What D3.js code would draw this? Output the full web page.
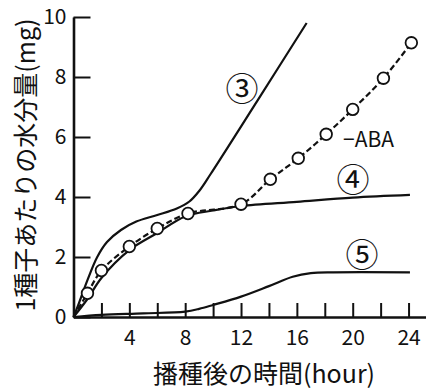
<!DOCTYPE html>
<html>
<head>
<meta charset="utf-8">
<script src="https://d3js.org/d3.v7.min.js"></script>
<style>
  body { margin: 0; background: #fff; }
  text { font-family: "Noto Sans CJK JP", "Noto Sans", sans-serif; fill: #111; }
</style>
</head>
<body>
<div id="graph-area"></div>
<script>
    // hours after sowing vs water content per seed (mg)
    const abaHours  = [0, 1, 2, 4, 6, 8.2, 12, 14.1, 16.1, 18.1, 20, 22.2, 24.2];
    const abaValues = [0, 0.79, 1.55, 2.35, 2.95, 3.45, 3.76, 4.59, 5.29, 6.09, 6.92, 7.96, 9.14];

    const c3Hours  = [0, 0.3, 1, 1.7, 2.4, 3.4, 4.5, 6, 7.4, 8.3, 9, 9.8, 13.2, 16.7];
    const c3Values = [0, 0.35, 1.23, 2.0, 2.5, 2.9, 3.18, 3.4, 3.62, 3.85, 4.2, 4.75, 7.23, 9.8];

    const c4Hours  = [0, 1, 2, 4, 6, 8, 10, 12, 16, 20, 24.1];
    const c4Values = [0, 0.6, 1.3, 2.23, 2.8, 3.35, 3.55, 3.7, 3.84, 3.98, 4.07];

    const c5Hours  = [0, 2, 5, 8, 9, 10, 12, 14, 15.7, 17, 18.6, 24.1];
    const c5Values = [0, 0.07, 0.12, 0.18, 0.27, 0.4, 0.68, 1.03, 1.34, 1.46, 1.49, 1.49];

    const xTicks = [2, 4, 6, 8, 10, 12, 14, 16, 18, 20, 22, 24];
    const yTicks = [0, 2, 4, 6, 8, 10];

    const w = 426;
    const h = 392;

    const xScale = d3.scaleLinear()
                     .domain([0, 25.3])
                     .range([73.5, 426.7]);

    const yScale = d3.scaleLinear()
                     .domain([0, 10])
                     .range([317, 17]);

    const svg = d3.select("#graph-area").append("svg")
                  .attr("width", w)
                  .attr("height", h);

    const zip = (xs, ys) => xs.map((x, i) => [x, ys[i]]);

    const line = d3.line()
                   .x(d => xScale(d[0]))
                   .y(d => yScale(d[1]))
                   .curve(d3.curveCatmullRom.alpha(0.5));

    // solid curves 3, 4, 5
    [[c3Hours, c3Values], [c4Hours, c4Values], [c5Hours, c5Values]].forEach(function(s) {
      svg.append("path")
         .datum(zip(s[0], s[1]))
         .attr("fill", "none")
         .attr("stroke", "#111")
         .attr("stroke-width", 2.2)
         .attr("d", line);
    });

    // -ABA dashed curve with open circles
    const aba = zip(abaHours, abaValues);
    svg.append("path")
       .datum(aba)
       .attr("fill", "none")
       .attr("stroke", "#111")
       .attr("stroke-width", 2.2)
       .attr("stroke-dasharray", "6,3")
       .attr("d", line);

    svg.selectAll("circle")
       .data(aba.slice(1))
       .enter()
       .append("circle")
       .attr("cx", d => xScale(d[0]))
       .attr("cy", d => yScale(d[1]))
       .attr("r", 5.8)
       .attr("fill", "#fff")
       .attr("stroke", "#111")
       .attr("stroke-width", 1.8);

    // axes
    const xAxis = d3.axisBottom(xScale)
                    .tickValues(xTicks)
                    .tickSizeInner(-14)
                    .tickSizeOuter(0)
                    .tickPadding(13)
                    .tickFormat(d => d % 4 === 0 ? d : "");

    const yAxis = d3.axisLeft(yScale)
                    .tickValues(yTicks)
                    .tickSizeInner(-17)
                    .tickSizeOuter(0)
                    .tickPadding(7);

    const gx = svg.append("g")
       .attr("transform", "translate(0," + yScale(0) + ")")
       .call(xAxis);

    const gy = svg.append("g")
       .attr("transform", "translate(" + xScale(0) + ",0)")
       .call(yAxis);

    [gx, gy].forEach(function(g) {
      g.select(".domain").attr("stroke", "#111").attr("stroke-width", 2.6);
      g.selectAll(".tick line").attr("stroke", "#111").attr("stroke-width", 2);
      g.selectAll(".tick text")
       .attr("font-family", "'Noto Sans CJK JP', sans-serif")
       .attr("font-size", 21)
       .attr("fill", "#111");
    });

    // axis titles
    svg.append("text")
       .attr("x", 264)
       .attr("y", 383)
       .attr("text-anchor", "middle")
       .attr("font-size", 25)
       .text("播種後の時間(hour)");

    svg.append("text")
       .attr("transform", "translate(35,165) rotate(-90)")
       .attr("text-anchor", "middle")
       .attr("font-size", 25)
       .text("1種子あたりの水分量(mg)");

    // curve labels
    const labels = [
      { t: "③", x: 242, y: 89 },
      { t: "④", x: 353, y: 180 },
      { t: "⑤", x: 362, y: 255 }
    ];
    svg.selectAll(".clabel")
       .data(labels)
       .enter()
       .append("text")
       .attr("class", "clabel")
       .attr("x", d => d.x)
       .attr("y", d => d.y)
       .attr("dy", "0.36em")
       .attr("text-anchor", "middle")
       .attr("font-size", 33)
       .text(d => d.t);

    svg.append("text")
       .attr("x", 343)
       .attr("y", 147)
       .attr("font-size", 21)
       .text("\u2212ABA");
</script>
</body>
</html>
